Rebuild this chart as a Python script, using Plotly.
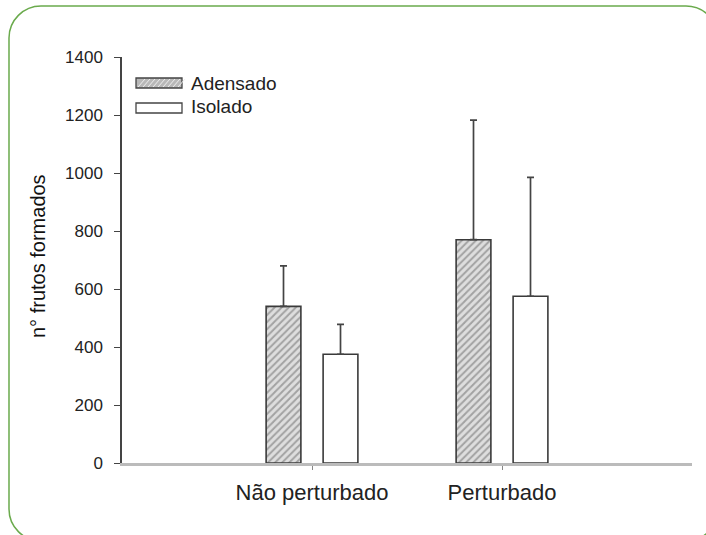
import plotly.graph_objects as go

# ---- data ----
categories = ["Não perturbado", "Perturbado"]
series_names = ["Adensado", "Isolado"]
adensado_mean = [540, 770]
adensado_upper = [680, 1182]
isolado_mean = [375, 575]
isolado_upper = [478, 985]
y_ticks = [0, 200, 400, 600, 800, 1000, 1200, 1400]

FONT = "Arial, Liberation Sans, sans-serif"
W, H = 706, 535
L, R, T, B = 122, 14, 57, 72
PW, PH = W - L - R, H - T - B


def px(x):
    return (x - L) / PW


def py(y):
    return (H - B - y) / PH


fig = go.Figure()

fig.add_trace(go.Bar(
    name=series_names[0], x=categories, y=adensado_mean,
    marker=dict(color="#d0d0d0", line=dict(color="#3a3a3a", width=1.6),
                pattern=dict(shape="/", fgcolor="#666", bgcolor="#dedede",
                             size=5, solidity=0.4)),
    error_y=dict(type="data", symmetric=False,
                 array=[u - m for u, m in zip(adensado_upper, adensado_mean)],
                 arrayminus=[0, 0], color="#444", thickness=1.7, width=3.5),
    showlegend=False,
))
fig.add_trace(go.Bar(
    name=series_names[1], x=categories, y=isolado_mean,
    marker=dict(color="white", line=dict(color="#3a3a3a", width=1.6)),
    error_y=dict(type="data", symmetric=False,
                 array=[u - m for u, m in zip(isolado_upper, isolado_mean)],
                 arrayminus=[0, 0], color="#444", thickness=1.7, width=3.5),
    showlegend=False,
))


# rounded green border
def rounded_path(x0, y0, x1, y1, r):
    k = 0.5523 * r

    def P(x, y):
        return f"{px(x):.5f},{py(y):.5f}"
    d = f"M{P(x0 + r, y0)} L{P(x1 - r, y0)} "
    d += f"C{P(x1 - r + k, y0)} {P(x1, y0 + r - k)} {P(x1, y0 + r)} "
    d += f"L{P(x1, y1 - r)} "
    d += f"C{P(x1, y1 - r + k)} {P(x1 - r + k, y1)} {P(x1 - r, y1)} "
    d += f"L{P(x0 + r, y1)} "
    d += f"C{P(x0 + r - k, y1)} {P(x0, y1 - r + k)} {P(x0, y1 - r)} "
    d += f"L{P(x0, y0 + r)} "
    d += f"C{P(x0, y0 + r - k)} {P(x0 + r - k, y0)} {P(x0 + r, y0)} Z"
    return d


shapes = [dict(type="path", xref="paper", yref="paper",
               path=rounded_path(9, 6, 718, 541, 32),
               line=dict(color="#6aaa4c", width=1.5), layer="below")]

# manual legend swatches
shapes.append(dict(type="rect", xref="paper", yref="paper",
                   x0=px(136), x1=px(182), y0=py(78), y1=py(88),
                   fillcolor="#b8b8b8", line=dict(color="#444", width=1.3)))
for i in range(9):
    xa = 138 + i * 5
    shapes.append(dict(type="line", xref="paper", yref="paper",
                       x0=px(xa), y0=py(87), x1=px(xa + 7), y1=py(79),
                       line=dict(color="#eeeeee", width=1)))
shapes.append(dict(type="rect", xref="paper", yref="paper",
                   x0=px(136), x1=px(182), y0=py(103), y1=py(113),
                   fillcolor="white", line=dict(color="#444", width=1.3)))

annotations = [
    dict(text=series_names[0], xref="paper", yref="paper", x=px(189), y=py(83),
         xanchor="left", yanchor="middle", showarrow=False,
         font=dict(family=FONT, size=19, color="#222")),
    dict(text=series_names[1], xref="paper", yref="paper", x=px(189), y=py(107),
         xanchor="left", yanchor="middle", showarrow=False,
         font=dict(family=FONT, size=19, color="#222")),
    dict(text="n° frutos formados", xref="paper", yref="paper", x=px(38), y=py(256),
         xanchor="center", yanchor="middle", textangle=-90, showarrow=False,
         font=dict(family=FONT, size=20, color="#111")),
]

fig.update_layout(
    width=W, height=H, autosize=False,
    margin=dict(l=L, r=R, t=T, b=B, pad=0),
    paper_bgcolor="white", plot_bgcolor="white",
    barmode="group", bargap=0.4, bargroupgap=0.39,
    shapes=shapes, annotations=annotations,
    showlegend=False,
)
fig.update_xaxes(
    range=[-1, 2], showline=True, linecolor="#bbbbbb", linewidth=3,
    ticks="outside", ticklen=4, tickcolor="#888", tickwidth=1,
    showgrid=False, zeroline=False, ticklabelstandoff=4,
    tickfont=dict(family=FONT, size=22, color="#222"),
)
fig.update_yaxes(
    range=[0, 1400], tickvals=y_ticks, showline=True, linecolor="#444", linewidth=1.5,
    ticks="outside", ticklen=6, tickcolor="#444", tickwidth=1.2,
    showgrid=False, zeroline=False, ticklabelstandoff=8,
    tickfont=dict(family=FONT, size=17, color="#222"),
)

fig.write_html("out.html")
